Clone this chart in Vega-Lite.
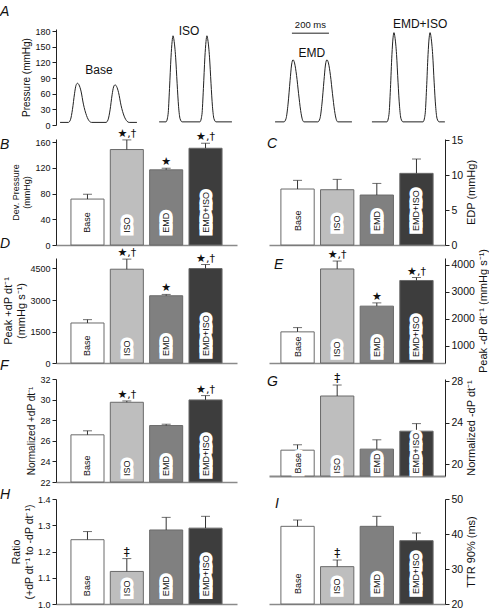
{
"$schema":"https://vega.github.io/schema/vega-lite/v6.json",
"padding":{"left":0,"top":5,"right":0,"bottom":0},
"config":{"view":{"stroke":null},"font":"Liberation Sans",
"axis":{"grid":false,"domainColor":"#222","tickColor":"#222","labelColor":"#111","titleColor":"#111","tickSize":4,"labelPadding":2,"titlePadding":3,"titleFontWeight":"normal","labelFont":"Liberation Sans","titleFont":"Liberation Sans"},
"title":{"fontSize":14,"fontStyle":"italic","fontWeight":"normal","anchor":"start","frame":"group","offset":0,"baseline":"middle","color":"#111","font":"Liberation Sans"}},
"datasets":{
"waveL":[
{"trace":"Base","t":22,"p":5},{"trace":"Base","t":67,"p":5},{"trace":"Base","t":78,"p":10},{"trace":"Base","t":89,"p":30},{"trace":"Base","t":100,"p":60},{"trace":"Base","t":108,"p":76},{"trace":"Base","t":116,"p":80},{"trace":"Base","t":124,"p":77},{"trace":"Base","t":135,"p":65},{"trace":"Base","t":148,"p":40},{"trace":"Base","t":165,"p":18},{"trace":"Base","t":181,"p":7},{"trace":"Base","t":192,"p":5},{"trace":"Base","t":270,"p":5},{"trace":"Base","t":281,"p":10},{"trace":"Base","t":292,"p":29},{"trace":"Base","t":303,"p":58},{"trace":"Base","t":311,"p":73},{"trace":"Base","t":319,"p":77},{"trace":"Base","t":327,"p":74},{"trace":"Base","t":338,"p":62},{"trace":"Base","t":351,"p":38},{"trace":"Base","t":368,"p":17},{"trace":"Base","t":384,"p":7},{"trace":"Base","t":395,"p":5},{"trace":"Base","t":437,"p":5},
{"trace":"ISO","t":557,"p":6},{"trace":"ISO","t":594,"p":6},{"trace":"ISO","t":605,"p":20},{"trace":"ISO","t":613,"p":70},{"trace":"ISO","t":621,"p":130},{"trace":"ISO","t":627,"p":160},{"trace":"ISO","t":632,"p":171},{"trace":"ISO","t":637,"p":163},{"trace":"ISO","t":646,"p":130},{"trace":"ISO","t":654,"p":80},{"trace":"ISO","t":662,"p":35},{"trace":"ISO","t":670,"p":12},{"trace":"ISO","t":681,"p":6},{"trace":"ISO","t":777,"p":6},{"trace":"ISO","t":788,"p":20},{"trace":"ISO","t":796,"p":70},{"trace":"ISO","t":804,"p":130},{"trace":"ISO","t":810,"p":160},{"trace":"ISO","t":815,"p":171},{"trace":"ISO","t":820,"p":163},{"trace":"ISO","t":829,"p":130},{"trace":"ISO","t":837,"p":80},{"trace":"ISO","t":845,"p":35},{"trace":"ISO","t":853,"p":12},{"trace":"ISO","t":864,"p":6},{"trace":"ISO","t":950,"p":6}],
"waveR":[
{"trace":"EMD","t":1183,"p":6},{"trace":"EMD","t":1231,"p":6},{"trace":"EMD","t":1242,"p":12},{"trace":"EMD","t":1253,"p":40},{"trace":"EMD","t":1264,"p":85},{"trace":"EMD","t":1272,"p":115},{"trace":"EMD","t":1280,"p":125},{"trace":"EMD","t":1288,"p":119},{"trace":"EMD","t":1299,"p":95},{"trace":"EMD","t":1310,"p":60},{"trace":"EMD","t":1321,"p":28},{"trace":"EMD","t":1331,"p":10},{"trace":"EMD","t":1339,"p":6},{"trace":"EMD","t":1414,"p":6},{"trace":"EMD","t":1425,"p":12},{"trace":"EMD","t":1436,"p":40},{"trace":"EMD","t":1447,"p":85},{"trace":"EMD","t":1455,"p":115},{"trace":"EMD","t":1463,"p":125},{"trace":"EMD","t":1471,"p":119},{"trace":"EMD","t":1482,"p":95},{"trace":"EMD","t":1493,"p":60},{"trace":"EMD","t":1504,"p":28},{"trace":"EMD","t":1514,"p":10},{"trace":"EMD","t":1522,"p":6},{"trace":"EMD","t":1598,"p":6},
{"trace":"EMD+ISO","t":1706,"p":6},{"trace":"EMD+ISO","t":1787,"p":6},{"trace":"EMD+ISO","t":1798,"p":20},{"trace":"EMD+ISO","t":1806,"p":70},{"trace":"EMD+ISO","t":1814,"p":135},{"trace":"EMD+ISO","t":1820,"p":167},{"trace":"EMD+ISO","t":1825,"p":177},{"trace":"EMD+ISO","t":1830,"p":169},{"trace":"EMD+ISO","t":1839,"p":135},{"trace":"EMD+ISO","t":1847,"p":82},{"trace":"EMD+ISO","t":1855,"p":36},{"trace":"EMD+ISO","t":1863,"p":12},{"trace":"EMD+ISO","t":1874,"p":6},{"trace":"EMD+ISO","t":1982,"p":6},{"trace":"EMD+ISO","t":1993,"p":20},{"trace":"EMD+ISO","t":2001,"p":70},{"trace":"EMD+ISO","t":2009,"p":135},{"trace":"EMD+ISO","t":2015,"p":167},{"trace":"EMD+ISO","t":2020,"p":177},{"trace":"EMD+ISO","t":2025,"p":169},{"trace":"EMD+ISO","t":2034,"p":135},{"trace":"EMD+ISO","t":2042,"p":82},{"trace":"EMD+ISO","t":2050,"p":36},{"trace":"EMD+ISO","t":2058,"p":12},{"trace":"EMD+ISO","t":2069,"p":6},{"trace":"EMD+ISO","t":2100,"p":6}],
"alabL":[{"t":232,"p":106,"label":"Base"},{"t":718,"p":180,"label":"ISO"}],
"alabR":[{"t":1382,"p":138,"label":"EMD"},{"t":1966,"p":193,"label":"EMD+ISO"}],
"sbar":[{"t0":1274,"t1":1474,"tm":1374,"p":176,"pt":191,"label":"200 ms"}],
"B":[{"cond":"Base","mean":71.5,"hi":79,"sig":""},{"cond":"ISO","mean":148.6,"hi":163.6,"sig":"★,†"},{"cond":"EMD","mean":117,"hi":119.5,"sig":"★"},{"cond":"EMD+ISO","mean":150.6,"hi":158.4,"sig":"★,†"}],
"C":[{"cond":"Base","mean":8.0,"hi":9.24,"sig":""},{"cond":"ISO","mean":7.9,"hi":9.38,"sig":""},{"cond":"EMD","mean":7.14,"hi":8.8,"sig":""},{"cond":"EMD+ISO","mean":10.24,"hi":12.29,"sig":""}],
"D":[{"cond":"Base","mean":1905,"hi":2065,"sig":""},{"cond":"ISO","mean":4466,"hi":4947,"sig":"★,†"},{"cond":"EMD","mean":3202,"hi":3266,"sig":"★"},{"cond":"EMD+ISO","mean":4498,"hi":4690,"sig":"★,†"}],
"E":[{"cond":"Base","mean":1514,"hi":1673,"sig":""},{"cond":"ISO","mean":3853,"hi":4147,"sig":"★,†"},{"cond":"EMD","mean":2470,"hi":2592,"sig":"★"},{"cond":"EMD+ISO","mean":3424,"hi":3535,"sig":"★,†"}],
"F":[{"cond":"Base","mean":26.58,"hi":26.97,"sig":""},{"cond":"ISO","mean":29.74,"hi":29.87,"sig":"★,†"},{"cond":"EMD","mean":27.48,"hi":27.61,"sig":""},{"cond":"EMD+ISO","mean":29.97,"hi":30.39,"sig":"★,†"}],
"G":[{"cond":"Base","mean":21.34,"hi":21.86,"sig":""},{"cond":"ISO","mean":26.56,"hi":27.62,"sig":"‡"},{"cond":"EMD","mean":21.44,"hi":22.34,"sig":""},{"cond":"EMD+ISO","mean":23.17,"hi":23.9,"sig":""}],
"H":[{"cond":"Base","mean":1.245,"hi":1.276,"sig":""},{"cond":"ISO","mean":1.124,"hi":1.173,"sig":"‡"},{"cond":"EMD","mean":1.282,"hi":1.33,"sig":""},{"cond":"EMD+ISO","mean":1.289,"hi":1.334,"sig":""}],
"I":[{"cond":"Base","mean":42.19,"hi":44.0,"sig":""},{"cond":"ISO","mean":30.67,"hi":32.57,"sig":"‡"},{"cond":"EMD","mean":42.19,"hi":45.05,"sig":""},{"cond":"EMD+ISO","mean":38.1,"hi":40.29,"sig":""}]
},
"columns":2,
"spacing":{"row":0,"column":32},
"bounds":"flush",
"concat":[
{"width":181,"height":96,"title":{"text":"A","dx":-56,"dy":-2},
 "encoding":{"x":{"field":"t","type":"quantitative","scale":{"domain":[0,977.4],"nice":false,"zero":false},"axis":null},
   "y":{"field":"p","type":"quantitative","scale":{"domain":[0,184],"nice":false,"zero":false},"axis":{"orient":"left","title":"Pressure (mmHg)","values":[0,30,60,90,120,150,180],"labelFontSize":9,"titleFontSize":10}}},
 "layer":[
  {"data":{"name":"waveL"},"mark":{"type":"line","interpolate":"monotone","color":"#222","strokeWidth":1},"encoding":{"detail":{"field":"trace"}}},
  {"data":{"name":"alabL"},"mark":{"type":"text","fontSize":12,"fill":"#111"},"encoding":{"text":{"field":"label"}}}
 ]},
{"width":176,"height":96,
 "layer":[
  {"data":{"name":"waveR"},"mark":{"type":"line","interpolate":"monotone","color":"#222","strokeWidth":1},
   "encoding":{"x":{"field":"t","type":"quantitative","scale":{"domain":[1150.2,2100.6],"nice":false,"zero":false},"axis":null},
     "y":{"field":"p","type":"quantitative","scale":{"domain":[0,184],"nice":false,"zero":false},"axis":null},"detail":{"field":"trace"}}},
  {"data":{"name":"sbar"},"mark":{"type":"rule","color":"#222","strokeWidth":1},
   "encoding":{"x":{"field":"t0","type":"quantitative","scale":{"domain":[1150.2,2100.6],"nice":false,"zero":false},"axis":null},"x2":{"field":"t1"},
     "y":{"field":"p","type":"quantitative","scale":{"domain":[0,184],"nice":false,"zero":false},"axis":null}}},
  {"data":{"name":"sbar"},"mark":{"type":"text","fontSize":9.5,"fill":"#111"},
   "encoding":{"x":{"field":"tm","type":"quantitative","scale":{"domain":[1150.2,2100.6],"nice":false,"zero":false},"axis":null},
     "y":{"field":"pt","type":"quantitative","scale":{"domain":[0,184],"nice":false,"zero":false},"axis":null},"text":{"field":"label"}}},
  {"data":{"name":"alabR"},"mark":{"type":"text","fontSize":12,"fill":"#111"},
   "encoding":{"x":{"field":"t","type":"quantitative","scale":{"domain":[1150.2,2100.6],"nice":false,"zero":false},"axis":null},
     "y":{"field":"p","type":"quantitative","scale":{"domain":[0,184],"nice":false,"zero":false},"axis":null},"text":{"field":"label"}}}
 ]},
{"width":1,"height":14,"data":{"values":[{}]},"mark":{"type":"point","opacity":0},"encoding":{}},
{"width":1,"height":14,"data":{"values":[{}]},"mark":{"type":"point","opacity":0},"encoding":{}},
{"width":181,"height":106,"title":{"text":"B","dx":-56,"dy":28},"data":{"name":"B"},
 "encoding":{"x":{"field":"cond","type":"nominal","sort":null,"scale":{"paddingInner":0.16,"paddingOuter":0.38},"axis":{"title":null,"labels":false,"ticks":false,"domainColor":"#8a8a8a","domainWidth":1.5}},
   "y":{"field":"mean","type":"quantitative","scale":{"domain":[0,165],"nice":false,"zero":false},"axis":{"orient":"left","title":["Dev. Pressure","(mmHg)"],"values":[0,40,80,120,160],"labelFontSize":9,"titleFontSize":9}}},
 "layer":[
  {"mark":{"type":"bar","stroke":"#6a6a6a","strokeWidth":1},"encoding":{"y2":{"datum":0},"fill":{"field":"cond","type":"nominal","scale":{"domain":["Base","ISO","EMD","EMD+ISO"],"range":["#ffffff","#bebebe","#808080","#3d3d3d"]},"legend":null}}},
  {"mark":{"type":"rule","color":"#333","strokeWidth":1},"encoding":{"y2":{"field":"hi"}}},
  {"mark":{"type":"tick","color":"#333","size":9,"thickness":1},"encoding":{"y":{"field":"hi","type":"quantitative","scale":{"domain":[0,165],"nice":false,"zero":false}}}},
  {"mark":{"type":"text","angle":270,"align":"left","baseline":"middle","fontSize":9,"fill":"#fff","stroke":"#fff","strokeWidth":7,"strokeJoin":"miter"},"encoding":{"y":{"datum":19,"type":"quantitative","scale":{"domain":[0,165],"nice":false,"zero":false}},"text":{"field":"cond"}}},
  {"mark":{"type":"text","angle":270,"align":"left","baseline":"middle","fontSize":9,"fill":"#111"},"encoding":{"y":{"datum":19,"type":"quantitative","scale":{"domain":[0,165],"nice":false,"zero":false}},"text":{"field":"cond"}}},
  {"mark":{"type":"text","baseline":"bottom","fontSize":11,"dy":-1,"fill":"#111","font":"DejaVu Sans"},"encoding":{"y":{"field":"hi","type":"quantitative","scale":{"domain":[0,165],"nice":false,"zero":false}},"text":{"field":"sig"}}}
 ]},
{"width":176,"height":106,"title":{"text":"C","dx":-2,"dy":20},"data":{"name":"C"},
 "encoding":{"x":{"field":"cond","type":"nominal","sort":null,"scale":{"paddingInner":0.16,"paddingOuter":0.3},"axis":{"title":null,"labels":false,"ticks":false,"domainColor":"#8a8a8a","domainWidth":1.5}},
   "y":{"field":"mean","type":"quantitative","scale":{"domain":[0,15.15],"nice":false,"zero":false},"axis":{"orient":"right","title":"EDP (mmHg)","values":[0,5,10,15],"labelFontSize":10.5,"titleFontSize":11,"titleAngle":270,"titleBaseline":"top"}}},
 "layer":[
  {"mark":{"type":"bar","stroke":"#6a6a6a","strokeWidth":1},"encoding":{"y2":{"datum":0},"fill":{"field":"cond","type":"nominal","scale":{"domain":["Base","ISO","EMD","EMD+ISO"],"range":["#ffffff","#bebebe","#808080","#3d3d3d"]},"legend":null}}},
  {"mark":{"type":"rule","color":"#333","strokeWidth":1},"encoding":{"y2":{"field":"hi"}}},
  {"mark":{"type":"tick","color":"#333","size":9,"thickness":1},"encoding":{"y":{"field":"hi","type":"quantitative","scale":{"domain":[0,15.15],"nice":false,"zero":false}}}},
  {"mark":{"type":"text","angle":270,"align":"left","baseline":"middle","fontSize":9,"fill":"#fff","stroke":"#fff","strokeWidth":7,"strokeJoin":"miter"},"encoding":{"y":{"datum":2.0,"type":"quantitative","scale":{"domain":[0,15.15],"nice":false,"zero":false}},"text":{"field":"cond"}}},
  {"mark":{"type":"text","angle":270,"align":"left","baseline":"middle","fontSize":9,"fill":"#111"},"encoding":{"y":{"datum":2.0,"type":"quantitative","scale":{"domain":[0,15.15],"nice":false,"zero":false}},"text":{"field":"cond"}}}
 ]},
{"width":1,"height":13,"data":{"values":[{}]},"mark":{"type":"point","opacity":0},"encoding":{}},
{"width":1,"height":13,"data":{"values":[{}]},"mark":{"type":"point","opacity":0},"encoding":{}},
{"width":181,"height":105,"title":{"text":"D","dx":-56,"dy":8},"data":{"name":"D"},
 "encoding":{"x":{"field":"cond","type":"nominal","sort":null,"scale":{"paddingInner":0.16,"paddingOuter":0.38},"axis":{"title":null,"labels":false,"ticks":false,"domainColor":"#8a8a8a","domainWidth":1.5}},
   "y":{"field":"mean","type":"quantitative","scale":{"domain":[0,5000],"nice":false,"zero":false},"axis":{"orient":"left","title":["Peak +dP dt⁻¹","(mmHg s⁻¹)"],"values":[0,1500,3000,4500],"format":"d","labelFontSize":9,"titleFontSize":11}}},
 "layer":[
  {"mark":{"type":"bar","stroke":"#6a6a6a","strokeWidth":1},"encoding":{"y2":{"datum":0},"fill":{"field":"cond","type":"nominal","scale":{"domain":["Base","ISO","EMD","EMD+ISO"],"range":["#ffffff","#bebebe","#808080","#3d3d3d"]},"legend":null}}},
  {"mark":{"type":"rule","color":"#333","strokeWidth":1},"encoding":{"y2":{"field":"hi"}}},
  {"mark":{"type":"tick","color":"#333","size":9,"thickness":1},"encoding":{"y":{"field":"hi","type":"quantitative","scale":{"domain":[0,5000],"nice":false,"zero":false}}}},
  {"mark":{"type":"text","angle":270,"align":"left","baseline":"middle","fontSize":9,"fill":"#fff","stroke":"#fff","strokeWidth":7,"strokeJoin":"miter"},"encoding":{"y":{"datum":333,"type":"quantitative","scale":{"domain":[0,5000],"nice":false,"zero":false}},"text":{"field":"cond"}}},
  {"mark":{"type":"text","angle":270,"align":"left","baseline":"middle","fontSize":9,"fill":"#111"},"encoding":{"y":{"datum":333,"type":"quantitative","scale":{"domain":[0,5000],"nice":false,"zero":false}},"text":{"field":"cond"}}},
  {"mark":{"type":"text","baseline":"bottom","fontSize":11,"dy":-1,"fill":"#111","font":"DejaVu Sans"},"encoding":{"y":{"field":"hi","type":"quantitative","scale":{"domain":[0,5000],"nice":false,"zero":false}},"text":{"field":"sig"}}}
 ]},
{"width":176,"height":105,"title":{"text":"E","dx":5,"dy":28},"data":{"name":"E"},
 "encoding":{"x":{"field":"cond","type":"nominal","sort":null,"scale":{"paddingInner":0.16,"paddingOuter":0.3},"axis":{"title":null,"labels":false,"ticks":false,"domainColor":"#8a8a8a","domainWidth":1.5}},
   "y":{"field":"mean","type":"quantitative","scale":{"domain":[357,4260],"nice":false,"zero":false},"axis":{"orient":"right","title":"Peak -dP dt⁻¹ (mmHg s⁻¹)","values":[1000,2000,3000,4000],"format":"d","labelFontSize":10.5,"titleFontSize":11,"titleAngle":270,"titleBaseline":"top"}}},
 "layer":[
  {"mark":{"type":"bar","stroke":"#6a6a6a","strokeWidth":1},"encoding":{"y2":{"datum":357},"fill":{"field":"cond","type":"nominal","scale":{"domain":["Base","ISO","EMD","EMD+ISO"],"range":["#ffffff","#bebebe","#808080","#3d3d3d"]},"legend":null}}},
  {"mark":{"type":"rule","color":"#333","strokeWidth":1},"encoding":{"y2":{"field":"hi"}}},
  {"mark":{"type":"tick","color":"#333","size":9,"thickness":1},"encoding":{"y":{"field":"hi","type":"quantitative","scale":{"domain":[357,4260],"nice":false,"zero":false}}}},
  {"mark":{"type":"text","angle":270,"align":"left","baseline":"middle","fontSize":9,"fill":"#fff","stroke":"#fff","strokeWidth":7,"strokeJoin":"miter"},"encoding":{"y":{"datum":580,"type":"quantitative","scale":{"domain":[357,4260],"nice":false,"zero":false}},"text":{"field":"cond"}}},
  {"mark":{"type":"text","angle":270,"align":"left","baseline":"middle","fontSize":9,"fill":"#111"},"encoding":{"y":{"datum":580,"type":"quantitative","scale":{"domain":[357,4260],"nice":false,"zero":false}},"text":{"field":"cond"}}},
  {"mark":{"type":"text","baseline":"bottom","fontSize":11,"dy":-1,"fill":"#111","font":"DejaVu Sans"},"encoding":{"y":{"field":"hi","type":"quantitative","scale":{"domain":[357,4260],"nice":false,"zero":false}},"text":{"field":"sig"}}}
 ]},
{"width":1,"height":16,"data":{"values":[{}]},"mark":{"type":"point","opacity":0},"encoding":{}},
{"width":1,"height":16,"data":{"values":[{}]},"mark":{"type":"point","opacity":0},"encoding":{}},
{"width":181,"height":103,"title":{"text":"F","dx":-56,"dy":2},"data":{"name":"F"},
 "encoding":{"x":{"field":"cond","type":"nominal","sort":null,"scale":{"paddingInner":0.16,"paddingOuter":0.38},"axis":{"title":null,"labels":false,"ticks":false,"domainColor":"#8a8a8a","domainWidth":1.5}},
   "y":{"field":"mean","type":"quantitative","scale":{"domain":[22,32],"nice":false,"zero":false},"axis":{"orient":"left","title":"Normalized  +dP dt⁻¹","values":[22,24,26,28,30,32],"labelFontSize":9,"titleFontSize":10}}},
 "layer":[
  {"mark":{"type":"bar","stroke":"#6a6a6a","strokeWidth":1},"encoding":{"y2":{"datum":22},"fill":{"field":"cond","type":"nominal","scale":{"domain":["Base","ISO","EMD","EMD+ISO"],"range":["#ffffff","#bebebe","#808080","#3d3d3d"]},"legend":null}}},
  {"mark":{"type":"rule","color":"#333","strokeWidth":1},"encoding":{"y2":{"field":"hi"}}},
  {"mark":{"type":"tick","color":"#333","size":9,"thickness":1},"encoding":{"y":{"field":"hi","type":"quantitative","scale":{"domain":[22,32],"nice":false,"zero":false}}}},
  {"mark":{"type":"text","angle":270,"align":"left","baseline":"middle","fontSize":9,"fill":"#fff","stroke":"#fff","strokeWidth":7,"strokeJoin":"miter"},"encoding":{"y":{"datum":22.58,"type":"quantitative","scale":{"domain":[22,32],"nice":false,"zero":false}},"text":{"field":"cond"}}},
  {"mark":{"type":"text","angle":270,"align":"left","baseline":"middle","fontSize":9,"fill":"#111"},"encoding":{"y":{"datum":22.58,"type":"quantitative","scale":{"domain":[22,32],"nice":false,"zero":false}},"text":{"field":"cond"}}},
  {"mark":{"type":"text","baseline":"bottom","fontSize":11,"dy":-1,"fill":"#111","font":"DejaVu Sans"},"encoding":{"y":{"field":"hi","type":"quantitative","scale":{"domain":[22,32],"nice":false,"zero":false}},"text":{"field":"sig"}}}
 ]},
{"width":176,"height":97,"title":{"text":"G","dx":-2,"dy":21},"data":{"name":"G"},
 "encoding":{"x":{"field":"cond","type":"nominal","sort":null,"scale":{"paddingInner":0.16,"paddingOuter":0.3},"axis":{"title":null,"labels":false,"ticks":false,"domainColor":"#8a8a8a","domainWidth":2}},
   "y":{"field":"mean","type":"quantitative","scale":{"domain":[18.85,28.2],"nice":false,"zero":false},"axis":{"orient":"right","title":"Normalized  -dP dt⁻¹","values":[20,24,28],"labelFontSize":10.5,"titleFontSize":11,"titleAngle":270,"titleBaseline":"top"}}},
 "layer":[
  {"mark":{"type":"bar","stroke":"#6a6a6a","strokeWidth":1},"encoding":{"y2":{"datum":18.85},"fill":{"field":"cond","type":"nominal","scale":{"domain":["Base","ISO","EMD","EMD+ISO"],"range":["#ffffff","#bebebe","#808080","#3d3d3d"]},"legend":null}}},
  {"mark":{"type":"rule","color":"#333","strokeWidth":1},"encoding":{"y2":{"field":"hi"}}},
  {"mark":{"type":"tick","color":"#333","size":9,"thickness":1},"encoding":{"y":{"field":"hi","type":"quantitative","scale":{"domain":[18.85,28.2],"nice":false,"zero":false}}}},
  {"mark":{"type":"text","angle":270,"align":"left","baseline":"middle","fontSize":9,"fill":"#fff","stroke":"#fff","strokeWidth":7,"strokeJoin":"miter"},"encoding":{"y":{"datum":19.1,"type":"quantitative","scale":{"domain":[18.85,28.2],"nice":false,"zero":false}},"text":{"field":"cond"}}},
  {"mark":{"type":"text","angle":270,"align":"left","baseline":"middle","fontSize":9,"fill":"#111"},"encoding":{"y":{"datum":19.1,"type":"quantitative","scale":{"domain":[18.85,28.2],"nice":false,"zero":false}},"text":{"field":"cond"}}},
  {"mark":{"type":"text","baseline":"bottom","fontSize":12,"dy":0,"fill":"#111","font":"DejaVu Sans"},"encoding":{"y":{"field":"hi","type":"quantitative","scale":{"domain":[18.85,28.2],"nice":false,"zero":false}},"text":{"field":"sig"}}}
 ]},
{"width":1,"height":17,"data":{"values":[{}]},"mark":{"type":"point","opacity":0},"encoding":{}},
{"width":1,"height":17,"data":{"values":[{}]},"mark":{"type":"point","opacity":0},"encoding":{}},
{"width":181,"height":105,"title":{"text":"H","dx":-56,"dy":11},"data":{"name":"H"},
 "encoding":{"x":{"field":"cond","type":"nominal","sort":null,"scale":{"paddingInner":0.16,"paddingOuter":0.38},"axis":{"title":null,"labels":false,"ticks":false,"domainColor":"#8a8a8a","domainWidth":1.5}},
   "y":{"field":"mean","type":"quantitative","scale":{"domain":[1.0,1.4],"nice":false,"zero":false},"axis":{"orient":"left","title":["Ratio","(+dP dt⁻¹ to -dP dt⁻¹)"],"values":[1.0,1.1,1.2,1.3,1.4],"format":".1f","labelFontSize":9,"titleFontSize":10.5}}},
 "layer":[
  {"mark":{"type":"bar","stroke":"#6a6a6a","strokeWidth":1},"encoding":{"y2":{"datum":1.0},"fill":{"field":"cond","type":"nominal","scale":{"domain":["Base","ISO","EMD","EMD+ISO"],"range":["#ffffff","#bebebe","#808080","#3d3d3d"]},"legend":null}}},
  {"mark":{"type":"rule","color":"#333","strokeWidth":1},"encoding":{"y2":{"field":"hi"}}},
  {"mark":{"type":"tick","color":"#333","size":9,"thickness":1},"encoding":{"y":{"field":"hi","type":"quantitative","scale":{"domain":[1.0,1.4],"nice":false,"zero":false}}}},
  {"mark":{"type":"text","angle":270,"align":"left","baseline":"middle","fontSize":9,"fill":"#fff","stroke":"#fff","strokeWidth":7,"strokeJoin":"miter"},"encoding":{"y":{"datum":1.03,"type":"quantitative","scale":{"domain":[1.0,1.4],"nice":false,"zero":false}},"text":{"field":"cond"}}},
  {"mark":{"type":"text","angle":270,"align":"left","baseline":"middle","fontSize":9,"fill":"#111"},"encoding":{"y":{"datum":1.03,"type":"quantitative","scale":{"domain":[1.0,1.4],"nice":false,"zero":false}},"text":{"field":"cond"}}},
  {"mark":{"type":"text","baseline":"bottom","fontSize":12,"dy":0,"fill":"#111","font":"DejaVu Sans"},"encoding":{"y":{"field":"hi","type":"quantitative","scale":{"domain":[1.0,1.4],"nice":false,"zero":false}},"text":{"field":"sig"}}}
 ]},
{"width":176,"height":105,"title":{"text":"I","dx":6,"dy":21},"data":{"name":"I"},
 "encoding":{"x":{"field":"cond","type":"nominal","sort":null,"scale":{"paddingInner":0.16,"paddingOuter":0.3},"axis":{"title":null,"labels":false,"ticks":false,"domainColor":"#8a8a8a","domainWidth":1.5}},
   "y":{"field":"mean","type":"quantitative","scale":{"domain":[20,50],"nice":false,"zero":false},"axis":{"orient":"right","title":"TTR 90% (ms)","values":[20,30,40,50],"labelFontSize":10.5,"titleFontSize":11,"titleAngle":270,"titleBaseline":"top"}}},
 "layer":[
  {"mark":{"type":"bar","stroke":"#6a6a6a","strokeWidth":1},"encoding":{"y2":{"datum":20},"fill":{"field":"cond","type":"nominal","scale":{"domain":["Base","ISO","EMD","EMD+ISO"],"range":["#ffffff","#bebebe","#808080","#3d3d3d"]},"legend":null}}},
  {"mark":{"type":"rule","color":"#333","strokeWidth":1},"encoding":{"y2":{"field":"hi"}}},
  {"mark":{"type":"tick","color":"#333","size":9,"thickness":1},"encoding":{"y":{"field":"hi","type":"quantitative","scale":{"domain":[20,50],"nice":false,"zero":false}}}},
  {"mark":{"type":"text","angle":270,"align":"left","baseline":"middle","fontSize":9,"fill":"#fff","stroke":"#fff","strokeWidth":7,"strokeJoin":"miter"},"encoding":{"y":{"datum":22.86,"type":"quantitative","scale":{"domain":[20,50],"nice":false,"zero":false}},"text":{"field":"cond"}}},
  {"mark":{"type":"text","angle":270,"align":"left","baseline":"middle","fontSize":9,"fill":"#111"},"encoding":{"y":{"datum":22.86,"type":"quantitative","scale":{"domain":[20,50],"nice":false,"zero":false}},"text":{"field":"cond"}}},
  {"mark":{"type":"text","baseline":"bottom","fontSize":12,"dy":0,"fill":"#111","font":"DejaVu Sans"},"encoding":{"y":{"field":"hi","type":"quantitative","scale":{"domain":[20,50],"nice":false,"zero":false}},"text":{"field":"sig"}}}
 ]}
]
}
